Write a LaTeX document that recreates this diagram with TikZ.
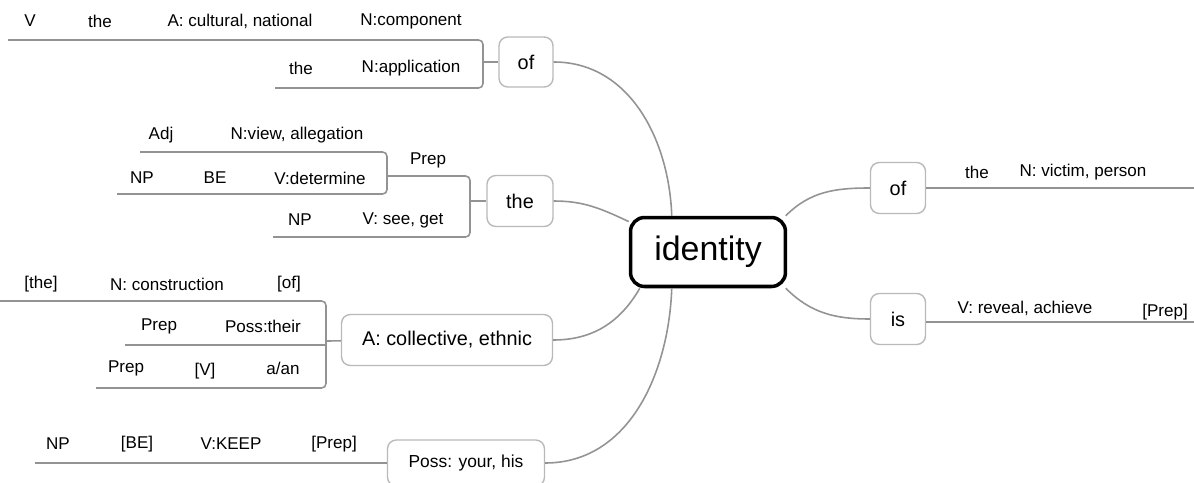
\documentclass[tikz,border=0pt]{standalone}
\usepackage{fontspec}
\setmainfont{Liberation Sans}
\usetikzlibrary{positioning}

\begin{document}
\begin{tikzpicture}[x=0.02cm, y=-0.02cm,
    word/.style={font=\fontsize{9.7}{11}\selectfont, inner sep=0pt},
    kbox/.style={draw=gray!55, rounded corners=5pt, line width=0.8pt, inner sep=0pt, font=\fontsize{11.3}{13}\selectfont},
    rule/.style={draw=gray!85, line width=0.9pt, rounded corners=2.5pt},
    branch/.style={draw=gray!85, line width=0.9pt}]
    \useasboundingbox (0,0) rectangle (1194,483);

    % Define nodes
    \node[draw=black, line width=2pt, rounded corners=8pt, minimum width=3.1cm, minimum height=1.38cm, inner sep=0pt,
          font=\fontsize{19.3}{22}\selectfont] (id) at (708,252) {identity};

    \node[kbox, minimum width=1.08cm, minimum height=1.0cm] (ofL) at (526,62) {of};
    \node[kbox, minimum width=1.32cm, minimum height=1.02cm] (theL) at (520,201) {the};
    \node[kbox, minimum width=4.22cm, minimum height=1.02cm] (adjL) at (447,340) {A: collective, ethnic};
    \node[kbox, minimum width=3.14cm, minimum height=0.92cm, font=\fontsize{9.9}{12}\selectfont] (possL) at (466,463) {Poss: your, his};
    \node[kbox, minimum width=1.1cm, minimum height=1.02cm] (ofR) at (898,188) {of};
    \node[kbox, minimum width=1.1cm, minimum height=1.02cm] (isR) at (898,319) {is};

    % words on the lines
    \node[word] (wV) at (30,21) {V};
    \node[word] (wThe) at (100,21) {the};
    \node[word] (wCult) at (240,21) {A: cultural, national};
    \node[word] (wComp) at (411,21) {N:component};
    \node[word] (wThe2) at (301,68) {the};
    \node[word] (wAppl) at (411,68) {N:application};

    \node[word] (wAdj) at (161,135) {Adj};
    \node[word] (wView) at (297,135) {N:view, allegation};
    \node[word] (wNP) at (142,178) {NP};
    \node[word] (wBE) at (215,178) {BE};
    \node[word] (wDet) at (320,178) {V:determine};
    \node[word] (wPrep) at (428,160) {Prep};
    \node[word] (wNP2) at (300,220) {NP};
    \node[word] (wSee) at (403,220) {V: see, get};

    \node[word] (wThe3) at (41,284) {[the]};
    \node[word] (wCons) at (167,284) {N: construction};
    \node[word] (wOf) at (289,284) {[of]};
    \node[word] (wPrep2) at (159,326) {Prep};
    \node[word] (wTheir) at (263,326) {Poss:their};
    \node[word] (wPrep3) at (126,368) {Prep};
    \node[word] (wV2) at (205,371) {[V]};
    \node[word] (wAan) at (283,368) {a/an};

    \node[word] (wNP3) at (58,444) {NP};
    \node[word] (wBE2) at (137,444) {[BE]};
    \node[word] (wKeep) at (231,444) {V:KEEP};
    \node[word] (wPrep4) at (334,444) {[Prep]};

    \node[word] (wThe4) at (977,172) {the};
    \node[word] (wVict) at (1083,172) {N: victim, person};
    \node[word] (wRev) at (1025,308) {V: reveal, achieve};
    \node[word] (wPrep5) at (1165,312) {[Prep]};

    % line ends
    \coordinate (a1) at (8,40);
    \coordinate (a2) at (275,88);
    \coordinate (ja) at (483,62);
    \coordinate (b1) at (140,152);
    \coordinate (b2) at (117,194);
    \coordinate (jb) at (387,176);
    \coordinate (b3) at (273,237);
    \coordinate (jc) at (470,201);
    \coordinate (c1) at (0,301);
    \coordinate (c2) at (125,345);
    \coordinate (c3) at (96,388);
    \coordinate (jd) at (326,341);
    \coordinate (d1) at (35,463);
    \coordinate (e1) at (1194,188);
    \coordinate (e2) at (1194,322);

    % Connect nodes with lines
    \draw[rule] (a1) -| (ja) |- (a2);
    \draw[rule] (ja) -- (ofL);
    \draw[rule] (b1) -| (jb) |- (b2);
    \draw[rule] (jb) -| (jc) |- (b3);
    \draw[rule] (jc) -- (theL);
    \draw[rule] (c1) -| (jd) |- (c3);
    \draw[rule] (c2) -- (jd |- c2);
    \draw[rule] (jd) -- (adjL);
    \draw[rule] (d1) -- (possL);
    \draw[rule] (ofR) -- (e1);
    \draw[rule] (isR.east |- e2) -- (e2);

    \draw[branch] (ofL.east) to[out=0, in=92] (id.135);
    \draw[branch] (theL.east) to[out=0, in=155] (id.159);
    \draw[branch] (adjL.east) to[out=0, in=240] (id.208);
    \draw[branch] (possL.east) to[out=0, in=268] (id.225);
    \draw[branch] (id.25) to[out=45, in=180] (ofR.west);
    \draw[branch] (id.-25) to[out=-45, in=180] (isR.west);
\end{tikzpicture}
\end{document}
